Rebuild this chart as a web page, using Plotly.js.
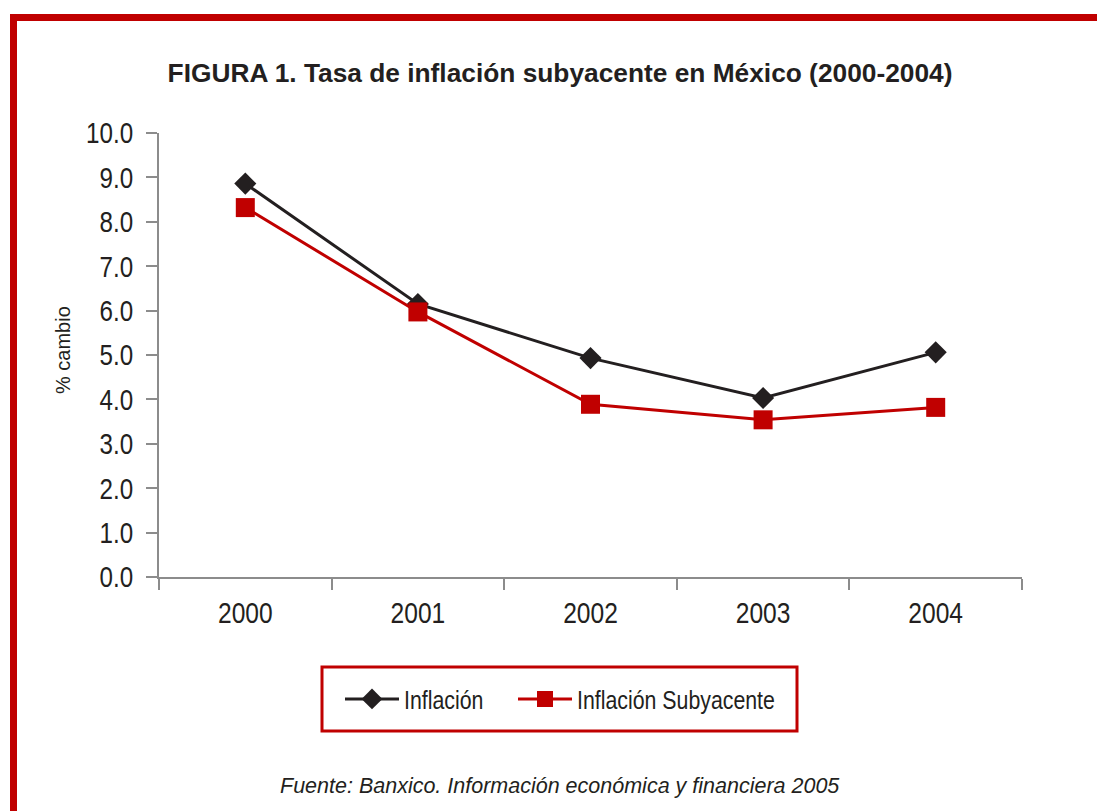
<!DOCTYPE html>
<html>
<head>
<meta charset="utf-8">
<script src="https://cdn.plot.ly/plotly-3.0.1.min.js"></script>
<style>
  html, body { margin: 0; padding: 0; background: #ffffff; }
  #wrap { position: relative; width: 1097px; height: 811px; overflow: hidden; }
  #frame {
    position: absolute; left: 10px; top: 14px; right: 0; bottom: 0;
    border-top: 7px solid #c00000; border-left: 7px solid #c00000;
  }
  #chart { position: absolute; left: 0; top: 0; width: 1097px; height: 811px; }
</style>
</head>
<body>
<div id="wrap">
  <div id="frame"></div>
  <div id="chart"></div>
</div>
<script>
// Años y tasas anuales (% cambio)
const years = ['2000', '2001', '2002', '2003', '2004'];
const inflacion = [8.86, 6.15, 4.93, 4.03, 5.06];
const inflacionSubyacente = [8.32, 5.97, 3.89, 3.54, 3.82];
const seriesNames = ['Inflación', 'Inflación Subyacente'];
const yTicks = [0, 1, 2, 3, 4, 5, 6, 7, 8, 9, 10];
const yTickText = yTicks.map(v => v.toFixed(1));

const sans = '"Liberation Sans", Arial, sans-serif';
const ink = '#231f20';
const red = '#c00000';
const axisGrey = '#8c8c8c';

// plot area in pixels, used to place the legend box and notes
const W = 1097, H = 811;
const L = 159, R = 1022, T = 133, B = 577;
const px = x => (x - L) / (R - L);
const py = y => (B - y) / (B - T);

const traces = [
  {
    x: years, y: inflacion, name: seriesNames[0], type: 'scatter', mode: 'lines+markers',
    line: { color: ink, width: 3 },
    marker: { symbol: 'diamond', size: 17, color: ink },
    legend: 'legend'
  },
  {
    x: years, y: inflacionSubyacente, name: seriesNames[1], type: 'scatter', mode: 'lines+markers',
    line: { color: red, width: 3 },
    marker: { symbol: 'square', size: 19, color: red },
    legend: 'legend2'
  }
];

const legendBase = {
  orientation: 'h', xref: 'container', yref: 'container',
  xanchor: 'left', yanchor: 'middle', y: 1 - 699 / H,
  font: { family: sans, size: 26, color: ink },
  bgcolor: 'rgba(0,0,0,0)', borderwidth: 0, itemwidth: 54
};

const layout = {
  width: W, height: H,
  paper_bgcolor: 'rgba(0,0,0,0)', plot_bgcolor: 'rgba(0,0,0,0)',
  margin: { l: L, r: W - R, t: T, b: H - B },
  showlegend: true,
  title: {
    text: '<b>FIGURA 1. Tasa de inflación subyacente en México (2000-2004)</b>',
    font: { family: sans, size: 26.3, color: ink },
    xref: 'container', yref: 'container', x: 560 / W, y: 1 - 73 / H,
    xanchor: 'center', yanchor: 'middle'
  },
  xaxis: {
    type: 'category', range: [-0.5, 4.5],
    showgrid: false, zeroline: false,
    showline: true, linecolor: axisGrey, linewidth: 2,
    ticks: 'outside', tickson: 'boundaries', ticklen: 11, tickwidth: 2, tickcolor: axisGrey,
    ticklabelstandoff: 8,
    tickfont: { family: sans, size: 30, color: ink }
  },
  yaxis: {
    range: [0, 10], tickvals: yTicks, ticktext: yTickText,
    showgrid: false, zeroline: false,
    showline: true, linecolor: axisGrey, linewidth: 2,
    ticks: 'outside', ticklen: 11, tickwidth: 2, tickcolor: axisGrey,
    ticklabelstandoff: 7,
    tickfont: { family: sans, size: 29.5, color: ink }
  },
  legend: Object.assign({}, legendBase, { x: 340 / W }),
  legend2: Object.assign({}, legendBase, { x: 513 / W }),
  shapes: [
    {
      type: 'rect', xref: 'paper', yref: 'paper',
      x0: px(322), x1: px(797), y0: py(731), y1: py(667),
      line: { color: red, width: 3 }, fillcolor: 'rgba(0,0,0,0)'
    }
  ],
  annotations: [
    {
      text: '% cambio', textangle: -90,
      xref: 'paper', yref: 'paper', x: px(63), y: py(350),
      xanchor: 'center', yanchor: 'middle', showarrow: false,
      font: { family: sans, size: 20, color: ink }
    },
    {
      text: '<i>Fuente: Banxico. Información económica y financiera 2005</i>',
      xref: 'paper', yref: 'paper', x: px(560), y: py(786),
      xanchor: 'center', yanchor: 'middle', showarrow: false,
      font: { family: sans, size: 21.5, color: ink }
    }
  ]
};

// Tick and legend labels are set in a condensed face: squeeze them horizontally.
// Widths come from a canvas so that labels in not-yet-visible groups work too.
const ctx = document.createElement('canvas').getContext('2d');
function textWidth(t) {
  const size = t.style.fontSize || '26px';
  const family = t.style.fontFamily || sans;
  ctx.font = size + ' ' + family;
  return ctx.measureText(t.textContent).width;
}
function isCondensedLabel(t) {
  if (seriesNames.includes(t.textContent)) return true;
  return !!t.closest('.xtick, .ytick');
}
function condense(root) {
  root.querySelectorAll('text').forEach(t => {
    if (!isCondensedLabel(t)) return;
    const key = t.textContent + '|' + t.style.fontSize;
    if (t.getAttribute('data-cond') === key && t.hasAttribute('textLength')) return;
    const len = textWidth(t);
    if (len > 0) {
      t.setAttribute('textLength', (len * 0.82).toFixed(1));
      t.setAttribute('lengthAdjust', 'spacingAndGlyphs');
      t.setAttribute('data-cond', key);
    }
  });
}

const gd = document.getElementById('chart');
// legends can be drawn after the main render, so keep watching for text
new MutationObserver(() => condense(gd)).observe(gd, {
  childList: true, subtree: true, characterData: true,
  attributes: true, attributeFilter: ['transform', 'style', 'x', 'y', 'class']
});
Plotly.newPlot(gd, traces, layout, { displayModeBar: false, staticPlot: true })
  .then(() => {
    condense(gd);
    let n = 0;
    const timer = setInterval(() => { condense(gd); if (++n > 60) clearInterval(timer); }, 25);
  });
</script>
</body>
</html>
